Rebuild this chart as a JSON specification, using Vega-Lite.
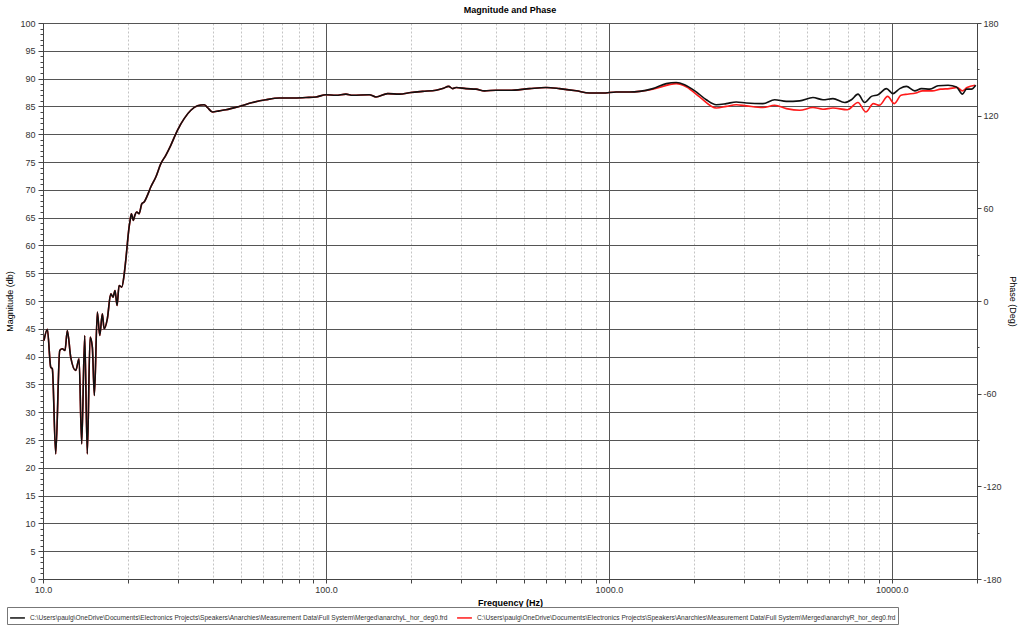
{
  "$schema": "https://vega.github.io/schema/vega-lite/v6.json",
  "width": 934,
  "height": 556,
  "autosize": {"type": "none"},
  "padding": {"left": 43, "top": 23, "right": 47, "bottom": 48},
  "background": "white",
  "title": {"text": "Magnitude and Phase", "fontSize": 9, "fontWeight": "bold", "font": "Liberation Sans", "color": "#000000", "frame": "group", "anchor": "middle", "offset": 4},
  "config": {
    "view": {"stroke": "#555555", "strokeWidth": 1},
    "font": "Liberation Sans",
    "axis": {"labelFont": "Liberation Sans", "labelFontSize": 9, "labelColor": "#333333", "titleFont": "Liberation Sans", "titleFontSize": 9, "titleColor": "#000000", "domainColor": "#444444", "tickColor": "#444444", "titleFontWeight": "normal"}
  },
  "data": {"values": [
    {"s":"L","f":10.08,"d":42.9},{"s":"L","f":10.36,"d":44.9},{"s":"L","f":10.65,"d":38.1},{"s":"L","f":10.79,"d":37.8},{"s":"L","f":11.09,"d":22.5},{"s":"L","f":11.46,"d":41.1},{"s":"L","f":11.7,"d":41.4},{"s":"L","f":11.96,"d":41.1},{"s":"L","f":12.19,"d":44.7},{"s":"L","f":12.53,"d":39.9},{"s":"L","f":13.05,"d":37.5},{"s":"L","f":13.41,"d":39.6},{"s":"L","f":13.7,"d":24.3},{"s":"L","f":14.04,"d":43.8},{"s":"L","f":14.34,"d":22.5},{"s":"L","f":14.67,"d":43.5},{"s":"L","f":14.94,"d":41.7},{"s":"L","f":15.19,"d":33.0},{"s":"L","f":15.56,"d":48.0},{"s":"L","f":15.87,"d":43.8},{"s":"L","f":16.21,"d":47.7},{"s":"L","f":16.44,"d":45.0},{"s":"L","f":16.88,"d":46.8},{"s":"L","f":17.36,"d":51.3},{"s":"L","f":17.68,"d":50.7},{"s":"L","f":17.97,"d":51.9},{"s":"L","f":18.27,"d":49.2},{"s":"L","f":18.57,"d":52.8},{"s":"L","f":18.98,"d":52.5},{"s":"L","f":19.34,"d":54.6},{"s":"L","f":19.61,"d":57.3},{"s":"L","f":20.15,"d":63.3},{"s":"L","f":20.32,"d":64.5},{"s":"L","f":20.53,"d":65.7},{"s":"L","f":20.87,"d":64.5},{"s":"L","f":21.11,"d":65.4},{"s":"L","f":21.45,"d":66.0},{"s":"L","f":21.86,"d":65.7},{"s":"L","f":22.35,"d":67.5},{"s":"L","f":22.77,"d":67.8},{"s":"L","f":23.39,"d":69.0},{"s":"L","f":24.04,"d":70.5},{"s":"L","f":25.05,"d":72.3},{"s":"L","f":26.09,"d":74.7},{"s":"L","f":27.16,"d":76.2},{"s":"L","f":28.29,"d":78.0},{"s":"L","f":29.86,"d":80.7},{"s":"L","f":31.54,"d":82.8},{"s":"L","f":33.31,"d":84.3},{"s":"L","f":35.15,"d":85.1},{"s":"L","f":37.11,"d":85.3},{"s":"L","f":38.13,"d":84.8},{"s":"L","f":39.71,"d":84.0},{"s":"L","f":41.94,"d":84.2},{"s":"L","f":44.29,"d":84.4},{"s":"L","f":49.36,"d":85.0},{"s":"L","f":55.01,"d":85.7},{"s":"L","f":61.35,"d":86.2},{"s":"L","f":68.38,"d":86.5},{"s":"L","f":76.2,"d":86.5},{"s":"L","f":84.97,"d":86.6},{"s":"L","f":92.18,"d":86.7},{"s":"L","f":100,"d":87.1},{"s":"L","f":108.5,"d":87.0},{"s":"L","f":117.7,"d":87.2},{"s":"L","f":124.2,"d":87.0},{"s":"L","f":142.3,"d":87.1},{"s":"L","f":150.3,"d":86.7},{"s":"L","f":165.2,"d":87.3},{"s":"L","f":181.6,"d":87.2},{"s":"L","f":199.8,"d":87.5},{"s":"L","f":219.6,"d":87.7},{"s":"L","f":245.0,"d":87.9},{"s":"L","f":258.5,"d":88.2},{"s":"L","f":271.5,"d":88.6},{"s":"L","f":280.5,"d":88.2},{"s":"L","f":288.4,"d":88.4},{"s":"L","f":312.7,"d":88.2},{"s":"L","f":339.3,"d":88.1},{"s":"L","f":363.1,"d":87.8},{"s":"L","f":399.5,"d":87.9},{"s":"L","f":445.0,"d":87.9},{"s":"L","f":523.9,"d":88.2},{"s":"L","f":600.1,"d":88.4},{"s":"L","f":668.9,"d":88.2},{"s":"L","f":766.1,"d":87.8},{"s":"L","f":853.9,"d":87.4},{"s":"L","f":951.5,"d":87.4},{"s":"L","f":1061,"d":87.6},{"s":"L","f":1183,"d":87.6},{"s":"L","f":1283,"d":87.7},
    {"s":"L","f":1430,"d":88.2},{"s":"L","f":1595,"d":89.1},{"s":"L","f":1730,"d":89.3},{"s":"L","f":1851,"d":88.9},{"s":"L","f":2036,"d":87.6},{"s":"L","f":2209,"d":86.2},{"s":"L","f":2396,"d":85.3},{"s":"L","f":2600,"d":85.5},{"s":"L","f":2820,"d":85.8},{"s":"L","f":3060,"d":85.6},{"s":"L","f":3503,"d":85.5},{"s":"L","f":3853,"d":86.2},{"s":"L","f":4239,"d":85.9},{"s":"L","f":4723,"d":86.0},{"s":"L","f":5263,"d":86.6},{"s":"L","f":5710,"d":86.2},{"s":"L","f":6194,"d":86.4},{"s":"L","f":6813,"d":85.7},{"s":"L","f":7196,"d":86.2},{"s":"L","f":7593,"d":87.2},{"s":"L","f":8020,"d":85.7},{"s":"L","f":8471,"d":86.8},{"s":"L","f":8939,"d":87.1},{"s":"L","f":9570,"d":88.2},{"s":"L","f":10097,"d":87.3},{"s":"L","f":10664,"d":88.2},{"s":"L","f":11262,"d":88.6},{"s":"L","f":12050,"d":87.8},{"s":"L","f":12726,"d":88.2},{"s":"L","f":13617,"d":88.1},{"s":"L","f":14569,"d":88.7},{"s":"L","f":15806,"d":88.8},{"s":"L","f":16925,"d":88.5},{"s":"L","f":17769,"d":87.2},{"s":"L","f":18355,"d":88.1},{"s":"L","f":19118,"d":88.1},{"s":"L","f":19799,"d":88.8},
    {"s":"R","f":10.08,"d":42.9},{"s":"R","f":10.36,"d":44.9},{"s":"R","f":10.65,"d":38.1},{"s":"R","f":10.79,"d":37.8},{"s":"R","f":11.09,"d":22.5},{"s":"R","f":11.46,"d":41.1},{"s":"R","f":11.7,"d":41.4},{"s":"R","f":11.96,"d":41.1},{"s":"R","f":12.19,"d":44.7},{"s":"R","f":12.53,"d":39.9},{"s":"R","f":13.05,"d":37.5},{"s":"R","f":13.41,"d":39.6},{"s":"R","f":13.7,"d":24.3},{"s":"R","f":14.04,"d":43.8},{"s":"R","f":14.34,"d":22.5},{"s":"R","f":14.67,"d":43.5},{"s":"R","f":14.94,"d":41.7},{"s":"R","f":15.19,"d":33.0},{"s":"R","f":15.56,"d":48.0},{"s":"R","f":15.87,"d":43.8},{"s":"R","f":16.21,"d":47.7},{"s":"R","f":16.44,"d":45.0},{"s":"R","f":16.88,"d":46.8},{"s":"R","f":17.36,"d":51.3},{"s":"R","f":17.68,"d":50.7},{"s":"R","f":17.97,"d":51.9},{"s":"R","f":18.27,"d":49.2},{"s":"R","f":18.57,"d":52.8},{"s":"R","f":18.98,"d":52.5},{"s":"R","f":19.34,"d":54.6},{"s":"R","f":19.61,"d":57.3},{"s":"R","f":20.15,"d":63.3},{"s":"R","f":20.32,"d":64.5},{"s":"R","f":20.53,"d":65.7},{"s":"R","f":20.87,"d":64.5},{"s":"R","f":21.11,"d":65.4},{"s":"R","f":21.45,"d":66.0},{"s":"R","f":21.86,"d":65.7},{"s":"R","f":22.35,"d":67.5},{"s":"R","f":22.77,"d":67.8},{"s":"R","f":23.39,"d":69.0},{"s":"R","f":24.04,"d":70.5},{"s":"R","f":25.05,"d":72.3},{"s":"R","f":26.09,"d":74.7},{"s":"R","f":27.16,"d":76.2},{"s":"R","f":28.29,"d":78.0},{"s":"R","f":29.86,"d":80.7},{"s":"R","f":31.54,"d":82.8},{"s":"R","f":33.31,"d":84.3},{"s":"R","f":35.15,"d":85.1},{"s":"R","f":37.11,"d":85.3},{"s":"R","f":38.13,"d":84.8},{"s":"R","f":39.71,"d":84.0},{"s":"R","f":41.94,"d":84.2},{"s":"R","f":44.29,"d":84.4},{"s":"R","f":49.36,"d":85.0},{"s":"R","f":55.01,"d":85.7},{"s":"R","f":61.35,"d":86.2},{"s":"R","f":68.38,"d":86.5},{"s":"R","f":76.2,"d":86.5},{"s":"R","f":84.97,"d":86.6},{"s":"R","f":92.18,"d":86.7},{"s":"R","f":100,"d":87.1},{"s":"R","f":108.5,"d":87.0},{"s":"R","f":117.7,"d":87.2},{"s":"R","f":124.2,"d":87.0},{"s":"R","f":142.3,"d":87.1},{"s":"R","f":150.3,"d":86.7},{"s":"R","f":165.2,"d":87.3},{"s":"R","f":181.6,"d":87.2},{"s":"R","f":199.8,"d":87.5},{"s":"R","f":219.6,"d":87.7},{"s":"R","f":245.0,"d":87.9},{"s":"R","f":258.5,"d":88.2},{"s":"R","f":271.5,"d":88.6},{"s":"R","f":280.5,"d":88.2},{"s":"R","f":288.4,"d":88.4},{"s":"R","f":312.7,"d":88.2},{"s":"R","f":339.3,"d":88.1},{"s":"R","f":363.1,"d":87.8},{"s":"R","f":399.5,"d":87.9},{"s":"R","f":445.0,"d":87.9},{"s":"R","f":523.9,"d":88.2},{"s":"R","f":600.1,"d":88.4},{"s":"R","f":668.9,"d":88.2},{"s":"R","f":766.1,"d":87.8},{"s":"R","f":853.9,"d":87.4},{"s":"R","f":951.5,"d":87.4},{"s":"R","f":1061,"d":87.6},{"s":"R","f":1183,"d":87.6},{"s":"R","f":1283,"d":87.7},
    {"s":"R","f":1430,"d":88.1},{"s":"R","f":1730,"d":89.1},{"s":"R","f":1883,"d":88.5},{"s":"R","f":2092,"d":86.7},{"s":"R","f":2396,"d":84.7},{"s":"R","f":2600,"d":85.0},{"s":"R","f":2820,"d":85.3},{"s":"R","f":3060,"d":85.1},{"s":"R","f":3503,"d":84.8},{"s":"R","f":3853,"d":85.2},{"s":"R","f":4239,"d":84.6},{"s":"R","f":4723,"d":84.3},{"s":"R","f":5263,"d":84.8},{"s":"R","f":5710,"d":84.5},{"s":"R","f":6194,"d":84.7},{"s":"R","f":6957,"d":84.4},{"s":"R","f":7593,"d":85.7},{"s":"R","f":8090,"d":84.0},{"s":"R","f":8602,"d":85.5},{"s":"R","f":9041,"d":85.2},{"s":"R","f":9662,"d":86.8},{"s":"R","f":10203,"d":85.5},{"s":"R","f":10775,"d":87.0},{"s":"R","f":11367,"d":87.2},{"s":"R","f":12155,"d":87.4},{"s":"R","f":12837,"d":87.8},{"s":"R","f":13890,"d":87.8},{"s":"R","f":14870,"d":88.1},{"s":"R","f":15960,"d":88.2},{"s":"R","f":17040,"d":88.4},{"s":"R","f":17730,"d":87.8},{"s":"R","f":18450,"d":88.4},{"s":"R","f":19700,"d":88.8}
  ]},
  "layer": [
    {
      "encoding": {
        "x": {"field": "f", "type": "quantitative", "scale": {"type": "log", "domain": [10, 20000], "nice": false},
          "axis": {"values": [10,20,30,40,50,60,70,80,90,100,200,300,400,500,600,700,800,900,1000,2000,3000,4000,5000,6000,7000,8000,9000,10000,20000],
            "labelExpr": "indexof([10,100,1000,10000], datum.value) >= 0 ? format(datum.value, '.1f') : ''",
            "labelOverlap": false, "labelFlush": false, "labelPadding": 2, "tickSize": 4,
            "grid": true,
            "gridColor": {"condition": {"test": "indexof([10,100,1000,10000], datum.value) >= 0", "value": "#555555"}, "value": "#c4c4c4"},
            "gridDash": {"condition": {"test": "indexof([10,100,1000,10000], datum.value) >= 0", "value": []}, "value": [2, 2]},
            "title": "Frequency (Hz)", "titleFontWeight": "bold", "titlePadding": 4}},
        "y": {"field": "d", "type": "quantitative", "scale": {"domain": [0, 100], "nice": false},
          "axis": {"values": [0,1,2,3,4,5,6,7,8,9,10,11,12,13,14,15,16,17,18,19,20,21,22,23,24,25,26,27,28,29,30,31,32,33,34,35,36,37,38,39,40,41,42,43,44,45,46,47,48,49,50,51,52,53,54,55,56,57,58,59,60,61,62,63,64,65,66,67,68,69,70,71,72,73,74,75,76,77,78,79,80,81,82,83,84,85,86,87,88,89,90,91,92,93,94,95,96,97,98,99,100],
            "labelExpr": "datum.value % 5 === 0 ? datum.value : ''",
            "labelOverlap": false, "labelPadding": 3,
            "tickSize": {"condition": {"test": "datum.value % 5 === 0", "value": 5}, "value": 3},
            "grid": true, "gridColor": "#555555",
            "gridOpacity": {"condition": {"test": "datum.value % 5 === 0", "value": 1}, "value": 0},
            "title": "Magnitude (db)", "titlePadding": 5}},
        "color": {"field": "s", "type": "nominal", "scale": {"domain": ["L", "R"], "range": ["#111111", "#ff1a1a"]},
          "legend": {"orient": "none", "legendX": -36, "legendY": 584, "direction": "horizontal", "title": null,
            "labelExpr": "datum.value === 'L' ? 'C:\\\\Users\\\\paulg\\\\OneDrive\\\\Documents\\\\Electronics Projects\\\\Speakers\\\\Anarchies\\\\Measurement Data\\\\Full System\\\\Merged\\\\anarchyL_hor_deg0.frd' : 'C:\\\\Users\\\\paulg\\\\OneDrive\\\\Documents\\\\Electronics Projects\\\\Speakers\\\\Anarchies\\\\Measurement Data\\\\Full System\\\\Merged\\\\anarchyR_hor_deg0.frd'",
            "labelFont": "Liberation Sans", "labelFontSize": 6.6, "labelColor": "#333333", "labelLimit": 800,
            "symbolType": "stroke", "symbolSize": 220, "symbolStrokeWidth": 1.5,
            "strokeColor": "#777777", "padding": 2, "columnPadding": 6}}
      },
      "layer": [
        {"transform": [{"filter": "datum.s === 'R'"}], "mark": {"type": "line", "strokeWidth": 1.6, "interpolate": "monotone"}},
        {"transform": [{"filter": "datum.s === 'L'"}], "mark": {"type": "line", "strokeWidth": 1.6, "interpolate": "monotone"}}
      ]
    },
    {
      "data": {"values": [{}]},
      "mark": {"type": "rule", "opacity": 0},
      "encoding": {
        "y": {"datum": 0, "type": "quantitative", "scale": {"domain": [-180, 180], "nice": false},
          "axis": {"orient": "right", "values": [-180,-150,-120,-90,-60,-30,0,30,60,90,120,150,180],
            "labelExpr": "datum.value % 60 === 0 ? datum.value : ''",
            "labelOverlap": false, "labelPadding": 2, "grid": false,
            "tickSize": {"condition": {"test": "datum.value % 60 === 0", "value": 4}, "value": 2},
            "title": "Phase (Deg)", "titlePadding": 6}}
      }
    }
  ],
  "resolve": {"scale": {"y": "independent"}, "axis": {"y": "independent"}}
}
